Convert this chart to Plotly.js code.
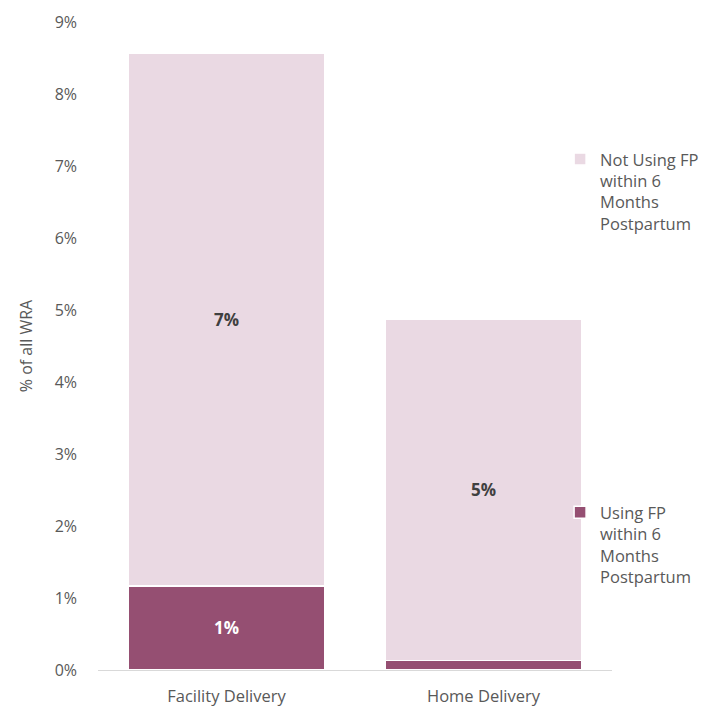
<!DOCTYPE html>
<html>
<head>
<meta charset="utf-8">
<script src="https://cdn.plot.ly/plotly-3.0.1.min.js"></script>
<style>html,body{margin:0;padding:0;background:#fff}#chart{width:712px;height:707px}</style>
</head>
<body>
<div id="chart"></div>
<script>
const categories = ["Facility Delivery", "Home Delivery"];
const usingFP = [1.17, 0.13];
const notUsingFP = [7.40, 4.745];
const yTickVals = [0,1,2,3,4,5,6,7,8,9];
const yTickText = ["0%","1%","2%","3%","4%","5%","6%","7%","8%","9%"];
const seriesNames = ["Using FP<br>within 6<br>Months<br>Postpartum", "Not Using FP<br>within 6<br>Months<br>Postpartum"];

function labels(vals){ return vals.map(v => v >= 0.5 ? Math.round(v) + "%" : ""); }

const FONT = "Open Sans, DejaVu Sans, sans-serif";
const GREY = "#595959";

const traces = [
  {
    type: "bar", x: categories, y: usingFP, name: seriesNames[0],
    marker: {color: "#954f72", line: {color: "#ffffff", width: 1.5}},
    text: labels(usingFP), textposition: "inside", insidetextanchor: "middle",
    textfont: {family: FONT, size: 17, color: "#ffffff", weight: "bold"},
    hoverinfo: "skip", legend: "legend2"
  },
  {
    type: "bar", x: categories, y: notUsingFP, name: seriesNames[1],
    marker: {color: "#ead9e3", line: {color: "#ffffff", width: 1.5}},
    text: labels(notUsingFP), textposition: "inside", insidetextanchor: "middle",
    textfont: {family: FONT, size: 17, color: "#404040", weight: "bold"},
    hoverinfo: "skip", legend: "legend"
  }
];

const legendCommon = {
  xref: "paper", yref: "paper", x: 0.899, xanchor: "left", yanchor: "top",
  valign: "top", bgcolor: "rgba(0,0,0,0)", borderwidth: 0,
  font: {family: FONT, size: 16.5, color: GREY},
  itemclick: false, itemdoubleclick: false, itemwidth: 30
};

const layout = {
  width: 712, height: 707,
  margin: {l: 98, r: 100, t: 22, b: 37, pad: 0, autoexpand: false},
  paper_bgcolor: "#ffffff", plot_bgcolor: "#ffffff",
  barmode: "stack", bargap: 0.237,
  font: {family: FONT, color: GREY},
  xaxis: {
    type: "category", showgrid: false, zeroline: false,
    showline: true, linecolor: "#d9d9d9", linewidth: 1,
    ticks: "", tickfont: {family: FONT, size: 16.5, color: GREY},
    ticklabelstandoff: 11
  },
  yaxis: {
    range: [0, 9], tickvals: yTickVals, ticktext: yTickText,
    showgrid: false, zeroline: false, showline: false, ticks: "",
    tickfont: {family: FONT, size: 16, color: GREY},
    ticklabelstandoff: 20,
    title: {text: "% of all WRA", font: {family: FONT, size: 16, color: GREY}, standoff: 18}
  },
  showlegend: true,
  legend: Object.assign({}, legendCommon, {y: 0.815}),
  legend2: Object.assign({}, legendCommon, {y: 0.27})
};

Plotly.newPlot("chart", traces, layout, {displayModeBar: false, staticPlot: true});
</script>
</body>
</html>
